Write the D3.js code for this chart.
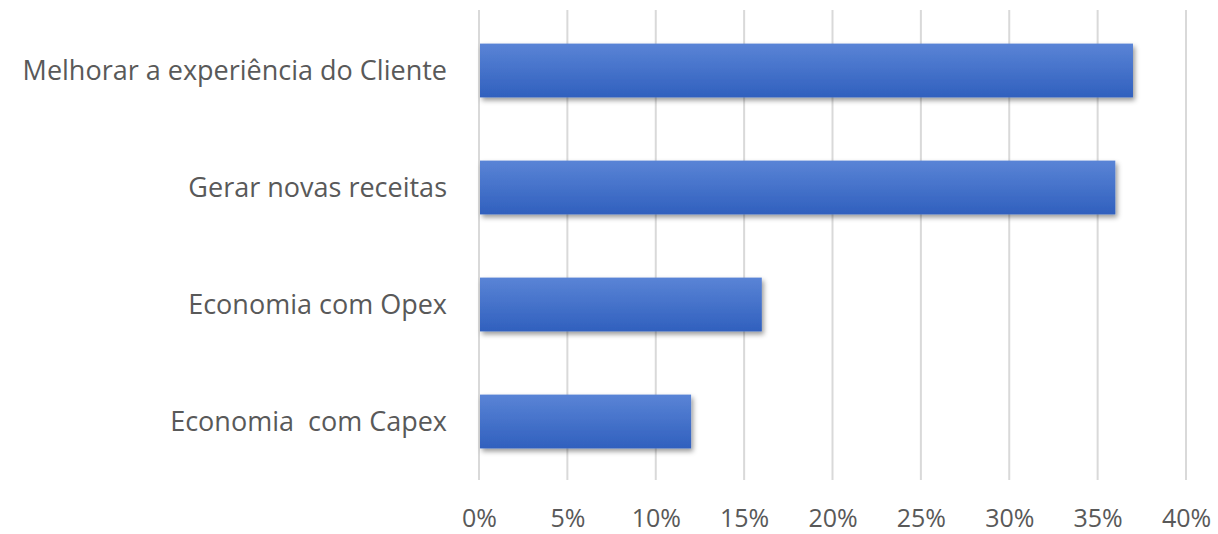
<!DOCTYPE html>
<html><head><meta charset="utf-8">
<script src="https://cdn.jsdelivr.net/npm/d3@7"></script>
<style>body{margin:0;background:#fff}svg{display:block}</style>
</head><body>
<svg id="c" width="1218" height="534"></svg>
<script>
const categories = ["Melhorar a experiência do Cliente","Gerar novas receitas","Economia com Opex","Economia  com Capex"];
const values = [0.37, 0.36, 0.16, 0.12];
const tickValues = [0,0.05,0.10,0.15,0.20,0.25,0.30,0.35,0.40];

const svg = d3.select("#c");
const x = d3.scaleLinear().domain([0,0.40]).range([479,1186]);
const y = d3.scaleBand().domain(categories).range([12,480]).paddingInner(0.54).paddingOuter(0.27);

const defs = svg.append("defs");
const g = defs.append("linearGradient").attr("id","bg").attr("x1",0).attr("y1",0).attr("x2",0).attr("y2",1);
g.append("stop").attr("offset","0%").attr("stop-color","#5a84d6");
g.append("stop").attr("offset","100%").attr("stop-color","#3060be");
const f = defs.append("filter").attr("id","sh").attr("x","-5%").attr("y","-20%").attr("width","115%").attr("height","160%");
f.append("feDropShadow").attr("dx",2).attr("dy",3).attr("stdDeviation",2.5).attr("flood-color","#000").attr("flood-opacity",0.4);

// gridlines
svg.append("g").selectAll("line").data(tickValues).join("line")
  .attr("x1",d=>x(d)).attr("x2",d=>x(d)).attr("y1",10).attr("y2",480)
  .attr("stroke","#d9d9d9").attr("stroke-width",2);

// bars
svg.append("g").selectAll("rect").data(values).join("rect")
  .attr("x",x(0)+1).attr("y",(d,i)=>y(categories[i]))
  .attr("width",d=>x(d)-x(0)-1).attr("height",y.bandwidth())
  .attr("fill","url(#bg)").attr("filter","url(#sh)");

// x axis labels
const xa = svg.append("g").attr("transform","translate(0,527)")
  .call(d3.axisBottom(x).tickValues(tickValues).tickFormat(d3.format(".0%")).tickSize(0).tickPadding(0));
xa.select(".domain").remove();
xa.selectAll("text").attr("dy","0").attr("y",0).attr("fill","#595959")
  .style("font-family","'Open Sans', sans-serif").style("font-size","25px");

// y axis labels
const ya = svg.append("g").attr("transform","translate(447,0)")
  .call(d3.axisLeft(y).tickSize(0).tickPadding(0));
ya.select(".domain").remove();
ya.selectAll("text").attr("fill","#595959").attr("dy","0.35em").attr("xml:space","preserve").style("white-space","pre")
  .style("font-family","'Open Sans', sans-serif").style("font-size","27px");
</script>
</body></html>
